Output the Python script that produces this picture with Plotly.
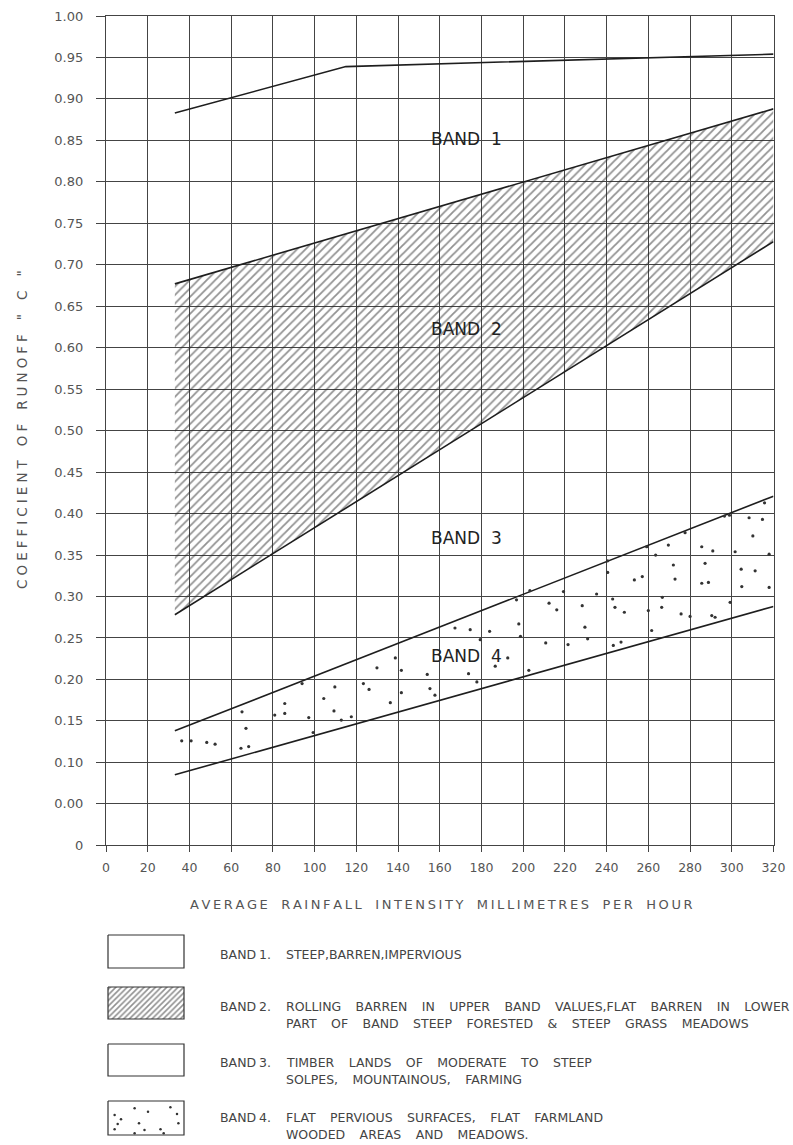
import plotly.graph_objects as go

W, H = 793, 1145
NB = "\u00a0"
THIN = "\u2009"
HAIR = "\u200a"

# ---------------- data ----------------
x_ticks = list(range(0, 321, 20))
y_tickvals = [round(0.05 * i, 2) for i in range(21)]
y_ticktext = ["0", "0.00"] + [f"{v:.2f}" for v in y_tickvals[2:]]

band1_top_x = [33, 115, 320]
band1_top_y = [0.883, 0.939, 0.954]
band2_top_x = [33, 320]
band2_top_y = [0.677, 0.888]
band2_bot_x = [33, 320]
band2_bot_y = [0.278, 0.728]
band3_top_x = [33, 320]
band3_top_y = [0.138, 0.421]
band4_bot_x = [33, 320]
band4_bot_y = [0.085, 0.288]

dots_x = [36.3, 40.8, 48.3, 52.3, 65.2, 67.1, 64.7, 68.4, 80.9, 85.7, 85.7, 97.2, 94.0, 99.3,
          104.4, 109.7, 109.3, 112.8, 117.6, 123.4, 126.1,
          129.9, 138.7, 141.6, 136.3, 141.6, 154.0, 155.3, 157.7, 167.3, 174.6, 173.8, 177.8,
          183.9, 179.4, 186.6, 192.6, 197.9, 198.7, 196.8, 202.7, 212.4, 216.1, 210.8, 221.5,
          219.3, 203.2,
          230.9, 229.6, 228.3, 235.2, 240.5, 240.5, 242.9, 244.0, 248.5, 243.2, 246.9, 253.3,
          257.1, 259.2, 263.5, 269.6, 272.0, 272.8, 266.7, 266.4, 260.0, 261.6, 275.7, 280.0,
          277.6, 285.6, 290.9, 287.2, 285.6, 288.8, 290.4, 292.0, 296.5, 298.9, 308.3, 314.7,
          315.7, 310.1, 301.6, 317.9, 304.5, 311.2, 304.8, 317.9, 299.2]
dots_y = [0.126, 0.126, 0.124, 0.122, 0.161, 0.141, 0.117, 0.119, 0.157, 0.171, 0.159, 0.154, 0.195, 0.136,
          0.177, 0.191, 0.162, 0.151, 0.155, 0.195, 0.188,
          0.214, 0.226, 0.211, 0.172, 0.184, 0.206, 0.189, 0.181, 0.262, 0.260, 0.207, 0.197,
          0.258, 0.248, 0.216, 0.226, 0.267, 0.252, 0.296, 0.211, 0.292, 0.284, 0.244, 0.242,
          0.306, 0.307,
          0.249, 0.263, 0.289, 0.303, 0.329, 0.343, 0.297, 0.287, 0.281, 0.241, 0.245, 0.320,
          0.324, 0.360, 0.350, 0.362, 0.338, 0.321, 0.299, 0.287, 0.283, 0.259, 0.279, 0.276,
          0.377, 0.360, 0.355, 0.340, 0.316, 0.317, 0.277, 0.275, 0.397, 0.398, 0.395, 0.393,
          0.413, 0.373, 0.354, 0.351, 0.333, 0.331, 0.312, 0.311, 0.293]

band_labels = ["BAND  1", "BAND  2", "BAND  3", "BAND  4"]
band_label_x = [172.6, 172.6, 173.0, 173.0]
band_label_y = [0.852, 0.622, 0.371, 0.228]

x_title = "AVERAGE RAINFALL INTENSITY MILLIMETRES PER HOUR"
y_title = 'COEFFICIENT OF RUNOFF " C "'

legend_nums = ["1.", "2.", "3.", "4."]
legend_desc = [
    ["STEEP,BARREN,IMPERVIOUS"],
    ["ROLLING BARREN IN UPPER BAND VALUES,FLAT BARREN IN LOWER",
     "PART OF BAND STEEP FORESTED & STEEP GRASS MEADOWS"],
    ["TIMBER LANDS OF MODERATE TO STEEP",
     "SOLPES, MOUNTAINOUS, FARMING"],
    ["FLAT PERVIOUS SURFACES, FLAT FARMLAND",
     "WOODED AREAS AND MEADOWS."],
]
legend_dots_x = [114.6, 121, 134.6, 148, 170.4, 177, 117.7, 114.6, 139, 144.5, 160.5, 163.7, 178.4, 134.6]
legend_dots_y = [1115, 1119.3, 1108.3, 1111.7, 1107.3, 1114, 1124, 1129.3, 1123.3, 1130, 1129.3, 1133.3, 1123.3, 1133.3]

# ---------------- layout geometry (pixels) ----------------
PX_L, PX_R = 106.0, 773.5
PX_T, PX_B = 16.0, 845.3
legend_box_x = (108, 184)
legend_box_y = [(935, 968), (987, 1019), (1044, 1076), (1101, 1135)]
legend_text_y = [[954], [1006, 1023], [1062, 1079], [1117, 1134]]

LINE = "#1e1e1e"
GRID = "#444444"
TXT = "#555555"
FONT = "DejaVu Sans"


def spaced(text, letter=THIN, word=THIN + NB + NB + THIN):
    return word.join(letter.join(w) for w in text.split(" "))


def wide_words(text, gap=NB * 3 + THIN):
    return gap.join(text.split(" "))


fig = go.Figure()

# hatched band 2
fig.add_trace(go.Scatter(
    x=band2_bot_x + band2_top_x[::-1] + band2_bot_x[:1],
    y=band2_bot_y + band2_top_y[::-1] + band2_bot_y[:1],
    mode="lines", line=dict(width=0, color="rgba(0,0,0,0)"),
    fill="toself", fillcolor="rgba(0,0,0,0)",
    fillpattern=dict(shape="/", fgcolor="#262626", bgcolor="rgba(255,255,255,0)",
                     size=6, solidity=0.3, fillmode="overlay"),
    hoverinfo="skip", showlegend=False))

for xs, ys in [(band1_top_x, band1_top_y), (band2_top_x, band2_top_y), (band2_bot_x, band2_bot_y),
               (band3_top_x, band3_top_y), (band4_bot_x, band4_bot_y)]:
    fig.add_trace(go.Scatter(x=xs, y=ys, mode="lines", line=dict(color=LINE, width=1.6),
                             showlegend=False, hoverinfo="skip"))

fig.add_trace(go.Scatter(x=dots_x, y=dots_y, mode="markers",
                         marker=dict(size=3.2, color="#333333"), showlegend=False, hoverinfo="skip"))

for t, x, y in zip(band_labels, band_label_x, band_label_y):
    fig.add_annotation(x=x, y=y, xref="x", yref="y", text=t.replace(" ", NB), showarrow=False,
                       font=dict(family=FONT, size=17, color="#222222"))

# ---------------- legend (pixel axes) ----------------
LEG_FONT = dict(family=FONT, size=12.5, color="#444444")
for i, (y0, y1) in enumerate(legend_box_y):
    x0, x1 = legend_box_x
    kw = {}
    if i == 1:
        kw = dict(fill="toself", fillcolor="rgba(0,0,0,0)",
                  fillpattern=dict(shape="/", fgcolor="#222222", bgcolor="rgba(255,255,255,0)",
                                   size=4, solidity=0.4, fillmode="overlay"))
    fig.add_trace(go.Scatter(x=[x0, x1, x1, x0, x0], y=[y0, y0, y1, y1, y0], xaxis="x2", yaxis="y2",
                             mode="lines", line=dict(color="#333333", width=1.2),
                             showlegend=False, hoverinfo="skip", **kw))
    fig.add_annotation(x=218, y=legend_text_y[i][0], xref="x2", yref="y2", xanchor="left",
                       text="BAND", showarrow=False, font=LEG_FONT)
    fig.add_annotation(x=257, y=legend_text_y[i][0], xref="x2", yref="y2", xanchor="left",
                       text=legend_nums[i], showarrow=False, font=LEG_FONT)
    for line_txt, ty in zip(legend_desc[i], legend_text_y[i]):
        fig.add_annotation(x=284, y=ty, xref="x2", yref="y2", xanchor="left",
                           text=wide_words(line_txt), showarrow=False, font=LEG_FONT)

fig.add_trace(go.Scatter(x=legend_dots_x, y=legend_dots_y, xaxis="x2", yaxis="y2", mode="markers",
                         marker=dict(size=2.5, color="#333333"), showlegend=False, hoverinfo="skip"))

# axis titles
fig.add_annotation(x=441, y=904, xref="x2", yref="y2", text=spaced(x_title),
                   showarrow=False, font=dict(family=FONT, size=13, color=TXT))
fig.add_annotation(x=22, y=430, xref="x2", yref="y2", textangle=-90,
                   text=spaced(y_title, letter=THIN + HAIR),
                   showarrow=False, font=dict(family=FONT, size=13.5, color=TXT))

fig.update_layout(
    width=W, height=H,
    margin=dict(l=0, r=0, t=0, b=0, autoexpand=False),
    paper_bgcolor="white", plot_bgcolor="rgba(0,0,0,0)",
    showlegend=False, hovermode=False, dragmode=False,
    xaxis=dict(domain=[PX_L / W, PX_R / W], range=[0, 320], tickvals=x_ticks,
               showgrid=True, gridcolor=GRID, gridwidth=1, zeroline=False,
               showline=True, linecolor=GRID, linewidth=1.2, mirror=True,
               ticks="outside", ticklen=6, tickcolor=GRID, tickwidth=1,
               tickfont=dict(family=FONT, size=12.5, color=TXT), ticklabelstandoff=5,
               showspikes=False, fixedrange=True, anchor="y"),
    yaxis=dict(domain=[(H - PX_B) / H, (H - PX_T) / H], range=[0, 1.0],
               tickvals=y_tickvals, ticktext=y_ticktext,
               showgrid=True, gridcolor=GRID, gridwidth=1, zeroline=False,
               showline=True, linecolor=GRID, linewidth=1.2, mirror=True,
               ticks="outside", ticklen=9, tickcolor=GRID, tickwidth=1,
               tickfont=dict(family=FONT, size=13, color=TXT), ticklabelstandoff=10,
               showspikes=False, fixedrange=True, anchor="x"),
    xaxis2=dict(domain=[0, 1], range=[0, W], visible=False, showgrid=False, zeroline=False,
                showspikes=False, fixedrange=True, anchor="y2"),
    yaxis2=dict(domain=[0, 1], range=[H, 0], visible=False, showgrid=False, zeroline=False,
                showspikes=False, fixedrange=True, anchor="x2"),
)

fig.write_html("out.html", config={"displayModeBar": False},
               post_script="document.body.style.margin='0px';document.body.style.overflow='hidden';")
